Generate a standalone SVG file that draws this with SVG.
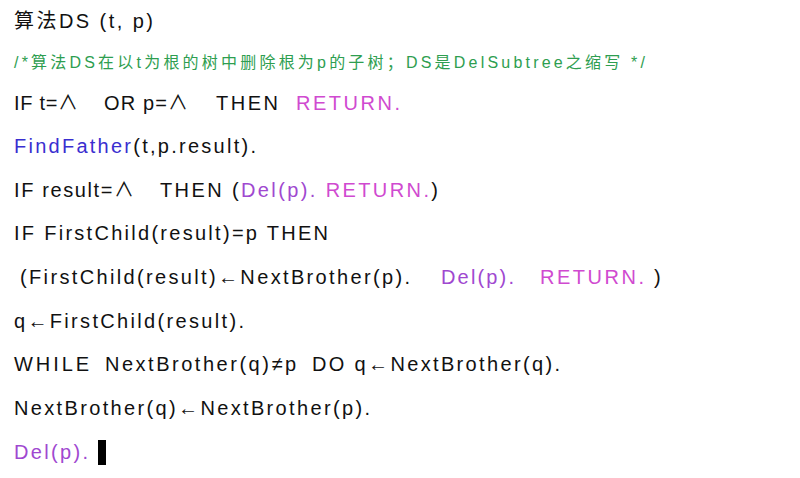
<svg xmlns="http://www.w3.org/2000/svg" width="800" height="478" viewBox="0 0 800 478">
<style>
text{font-family:"Liberation Sans","Noto Sans CJK SC",sans-serif;font-size:20px;fill:#111}
.c{fill:#2e9e50;font-size:16px}
.r{fill:#d04ad0}
.d{fill:#a048d0}
.f{fill:#3a2ed0}
</style>
<rect width="800" height="478" fill="#fff"/>
<g id="code">
<text x="14" y="28" textLength="139">算法DS (t, p)</text>
<text class="c" x="14" y="68" textLength="631">/*算法DS在以t为根的树中删除根为p的子树；DS是DelSubtree之缩写 */</text>
<text x="14" y="110" textLength="64">IF t=∧</text><text x="104" y="110" textLength="84">OR p=∧</text><text x="216" y="110" textLength="62">THEN</text><text class="r" x="296" y="110" textLength="104">RETURN.</text>
<text x="14" y="153" textLength="242"><tspan class="f">FindFather</tspan>(t,p.result).</text>
<text x="14" y="197" textLength="120">IF result=∧</text><text x="160" y="197" textLength="278">THEN (<tspan class="d">Del(p).</tspan> <tspan class="r">RETURN.</tspan>)</text>
<text x="14" y="240" textLength="314">IF FirstChild(result)=p THEN</text>
<text x="20" y="284" textLength="390">(FirstChild(result)←NextBrother(p).</text><text class="d" x="441" y="284" textLength="73">Del(p).</text><text class="r" x="540" y="284" textLength="104">RETURN.</text><text x="654" y="284">)</text>
<text x="14" y="328" textLength="230">q←FirstChild(result).</text>
<text x="14" y="371" textLength="75">WHILE</text><text x="105" y="371" textLength="191">NextBrother(q)≠p</text><text x="312" y="371" textLength="248">DO q←NextBrother(q).</text>
<text x="14" y="415" textLength="356">NextBrother(q)←NextBrother(p).</text>
<text class="d" x="14" y="459" textLength="74">Del(p).</text>
<rect x="98" y="440" width="8" height="25" fill="#000"/>
</g>
</svg>
